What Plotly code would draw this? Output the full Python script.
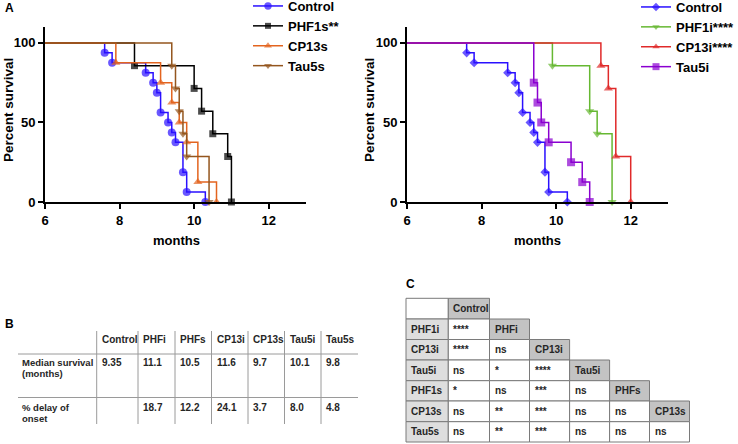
import plotly.graph_objects as go

# ---------------- data ----------------
control_t = [0, 7.6, 7.8, 8.7, 8.9, 9.0, 9.1, 9.3, 9.4, 9.5, 9.7, 9.8, 10.3]
control_s = [100, 93.75, 87.5, 81.25, 75, 68.75, 56.25, 50, 43.75, 37.5, 18.75, 6.25, 0]

phf1s_t = [0, 8.4, 10.0, 10.2, 10.5, 10.9, 11.0]
phf1s_s = [100, 85.7, 71.4, 57.1, 42.9, 28.6, 0]
cp13s_t = [0, 7.9, 9.1, 9.4, 9.6, 9.8, 10.1, 10.6]
cp13s_s = [100, 87.5, 75, 62.5, 50, 37.5, 12.5, 0]
tau5s_t = [0, 9.4, 9.5, 9.6, 9.7, 9.8, 10.4]
tau5s_s = [100, 85.7, 71.4, 57.1, 42.9, 28.6, 0]

phf1i_t = [0, 9.9, 10.9, 11.1, 11.5]
phf1i_s = [100, 85.7, 57.1, 42.9, 0]
cp13i_t = [0, 11.2, 11.4, 11.6, 12.0]
cp13i_s = [100, 85.7, 71.4, 28.6, 0]
tau5i_t = [0, 9.4, 9.5, 9.6, 9.8, 10.4, 10.7, 10.9]
tau5i_s = [100, 75, 62.5, 50, 37.5, 25, 12.5, 0]

x_ticks = [6, 8, 10, 12]
y_ticks = [0, 50, 100]

tb_cols = ["Control", "PHFi", "PHFs", "CP13i", "CP13s", "Tau5i", "Tau5s"]
tb_median = ["9.35", "11.1", "10.5", "11.6", "9.7", "10.1", "9.8"]
tb_delay = ["", "18.7", "12.2", "24.1", "3.7", "8.0", "4.8"]
tb_rowlabels = [["Median survival", "(months)"], ["% delay of", "onset"]]

tc_headers = ["Control", "PHFi", "CP13i", "Tau5i", "PHFs", "CP13s"]
tc_rows = ["PHF1i", "CP13i", "Tau5i", "PHF1s", "CP13s", "Tau5s"]
tc_vals = [["****"],
           ["****", "ns"],
           ["ns", "*", "****"],
           ["*", "ns", "***", "ns"],
           ["ns", "**", "***", "ns", "ns"],
           ["ns", "**", "***", "ns", "ns", "ns"]]

# ---------------- helpers ----------------
W, H = 738, 444
def PX(x): return x / W
def PY(y): return 1 - y / H

FONT = "Liberation Sans, Arial, sans-serif"
fig = go.Figure()

def km(t, s, name, color, symbol, size, xa, ya, legend):
    sizes = [0] + [size] * (len(t) - 1)
    fig.add_trace(go.Scatter(
        x=t, y=s, name=name, mode="lines+markers", line_shape="hv",
        line=dict(color=color, width=1.5),
        marker=dict(symbol=symbol, size=sizes, color=color, line=dict(width=0)),
        xaxis=xa, yaxis=ya, legend=legend, cliponaxis=False, showlegend=True))

km(control_t, control_s, "Control", "#2a10ff", "circle", 8, "x", "y", "legend")
km(phf1s_t, phf1s_s, "PHF1s**", "#000000", "square", 7, "x", "y", "legend")
km(cp13s_t, cp13s_s, "CP13s", "#e3641f", "triangle-up", 8, "x", "y", "legend")
km(tau5s_t, tau5s_s, "Tau5s", "#94561e", "triangle-down", 8, "x", "y", "legend")

km(control_t, control_s, "Control", "#2a10ff", "diamond", 7, "x2", "y2", "legend2")
km(phf1i_t, phf1i_s, "PHF1i****", "#66b832", "triangle-down", 8, "x2", "y2", "legend2")
km(cp13i_t, cp13i_s, "CP13i****", "#e02a2a", "triangle-up", 8, "x2", "y2", "legend2")
km(tau5i_t, tau5i_s, "Tau5i", "#8a00d0", "square", 8, "x2", "y2", "legend2")

axis_common = dict(showline=True, linecolor="black", linewidth=1.8, ticks="outside",
                   ticklen=5, tickwidth=1.8, tickcolor="black", showgrid=False,
                   zeroline=False, automargin=False,
                   tickfont=dict(family=FONT, size=13, weight="bold", color="black"))

fig.update_layout(
    width=W, height=H, margin=dict(l=0, r=0, t=0, b=0, autoexpand=False),
    plot_bgcolor="white", paper_bgcolor="white",
    xaxis=dict(domain=[PX(45), PX(306)], range=[6, 13], tickvals=x_ticks, anchor="y", **axis_common),
    yaxis=dict(domain=[PY(202), PY(27)], range=[0, 110], tickvals=y_ticks, anchor="x", **axis_common),
    xaxis2=dict(domain=[PX(407), PX(668)], range=[6, 13], tickvals=x_ticks, anchor="y2", **axis_common),
    yaxis2=dict(domain=[PY(202), PY(27)], range=[0, 110], tickvals=y_ticks, anchor="x2", **axis_common),
    legend=dict(x=PX(248), y=PY(-9), xanchor="left", yanchor="top", bgcolor="rgba(0,0,0,0)",
                font=dict(family=FONT, size=13, weight="bold", color="black")),
    legend2=dict(x=PX(636), y=PY(-8), xanchor="left", yanchor="top", bgcolor="rgba(0,0,0,0)",
                 font=dict(family=FONT, size=13, weight="bold", color="black")),
)

annots = []
def txt(x, y, s, size=13, xanchor="center", yanchor="middle", angle=0, color="black", weight="bold"):
    annots.append(dict(x=PX(x), y=PY(y), xref="paper", yref="paper", text=s, showarrow=False,
                       xanchor=xanchor, yanchor=yanchor, textangle=angle,
                       font=dict(family=FONT, size=size, weight=weight, color=color)))

# axis titles & panel letters
txt(8, 110, "Percent survival", size=13.5, angle=-90)
txt(369, 110, "Percent survival", size=13.5, angle=-90)
txt(176, 240, "months", size=13)
txt(537, 240, "months", size=13)
txt(3, 8, "A", size=12, xanchor="left")
txt(3, 324, "B", size=12, xanchor="left")
txt(404, 284, "C", size=12, xanchor="left")

shapes = []
def line(x0, y0, x1, y1, color="#9a9a9a", w=1):
    shapes.append(dict(type="line", xref="paper", yref="paper", x0=PX(x0), y0=PY(y0),
                       x1=PX(x1), y1=PY(y1), line=dict(color=color, width=w)))

# ---------------- table B ----------------
tb_x = [96.7, 138, 175, 211.5, 248, 284.5, 321]
for xv in tb_x:
    line(xv, 331, xv, 424)
line(18, 354, 358, 354)
line(18, 397.5, 358, 397.5)
TBF = 10
TBC = "#262626"
for i, c in enumerate(tb_cols):
    txt(tb_x[i] + 3, 339, c, size=TBF, xanchor="left", color=TBC)
    txt(tb_x[i] + 3, 362, tb_median[i], size=TBF, xanchor="left", color=TBC)
    if tb_delay[i]:
        txt(tb_x[i] + 3, 407, tb_delay[i], size=TBF, xanchor="left", color=TBC)
txt(20, 362, tb_rowlabels[0][0], size=9.5, xanchor="left", color=TBC)
txt(20, 373, tb_rowlabels[0][1], size=9.5, xanchor="left", color=TBC)
txt(20, 407, tb_rowlabels[1][0], size=9.5, xanchor="left", color=TBC)
txt(20, 418, tb_rowlabels[1][1], size=9.5, xanchor="left", color=TBC)

# ---------------- table C ----------------
tc_x = [406, 448.3, 489.5, 529.5, 569.6, 609.6, 649.5, 689.5]
tc_y = [298.3, 319, 339.5, 360, 380.7, 401, 421.7, 442]
HDR = "#c3c3c3"
LBL = "#dedede"
BORDER = "#7a7a7a"
def cell(r, c, fill, text):
    shapes.append(dict(type="rect", xref="paper", yref="paper",
                       x0=PX(tc_x[c]), x1=PX(tc_x[c + 1]), y0=PY(tc_y[r + 1]), y1=PY(tc_y[r]),
                       fillcolor=fill, line=dict(color=BORDER, width=1)))
    if text:
        txt(tc_x[c] + 3, (tc_y[r] + tc_y[r + 1]) / 2, text, size=10, xanchor="left", color="#262626")

cell(0, 0, "white", "")
for r in range(7):
    if r >= 1:
        cell(r, 0, LBL, tc_rows[r - 1])
        for c, v in enumerate(tc_vals[r - 1]):
            cell(r, c + 1, "white", v)
    if r < len(tc_headers):
        cell(r, r + 1, HDR, tc_headers[r])

fig.update_layout(annotations=annots, shapes=shapes)
fig.write_html("out.html", config={"displayModeBar": False},
               post_script="document.body.style.margin='0';document.body.style.padding='0';"
                           "document.documentElement.style.overflow='hidden';")
